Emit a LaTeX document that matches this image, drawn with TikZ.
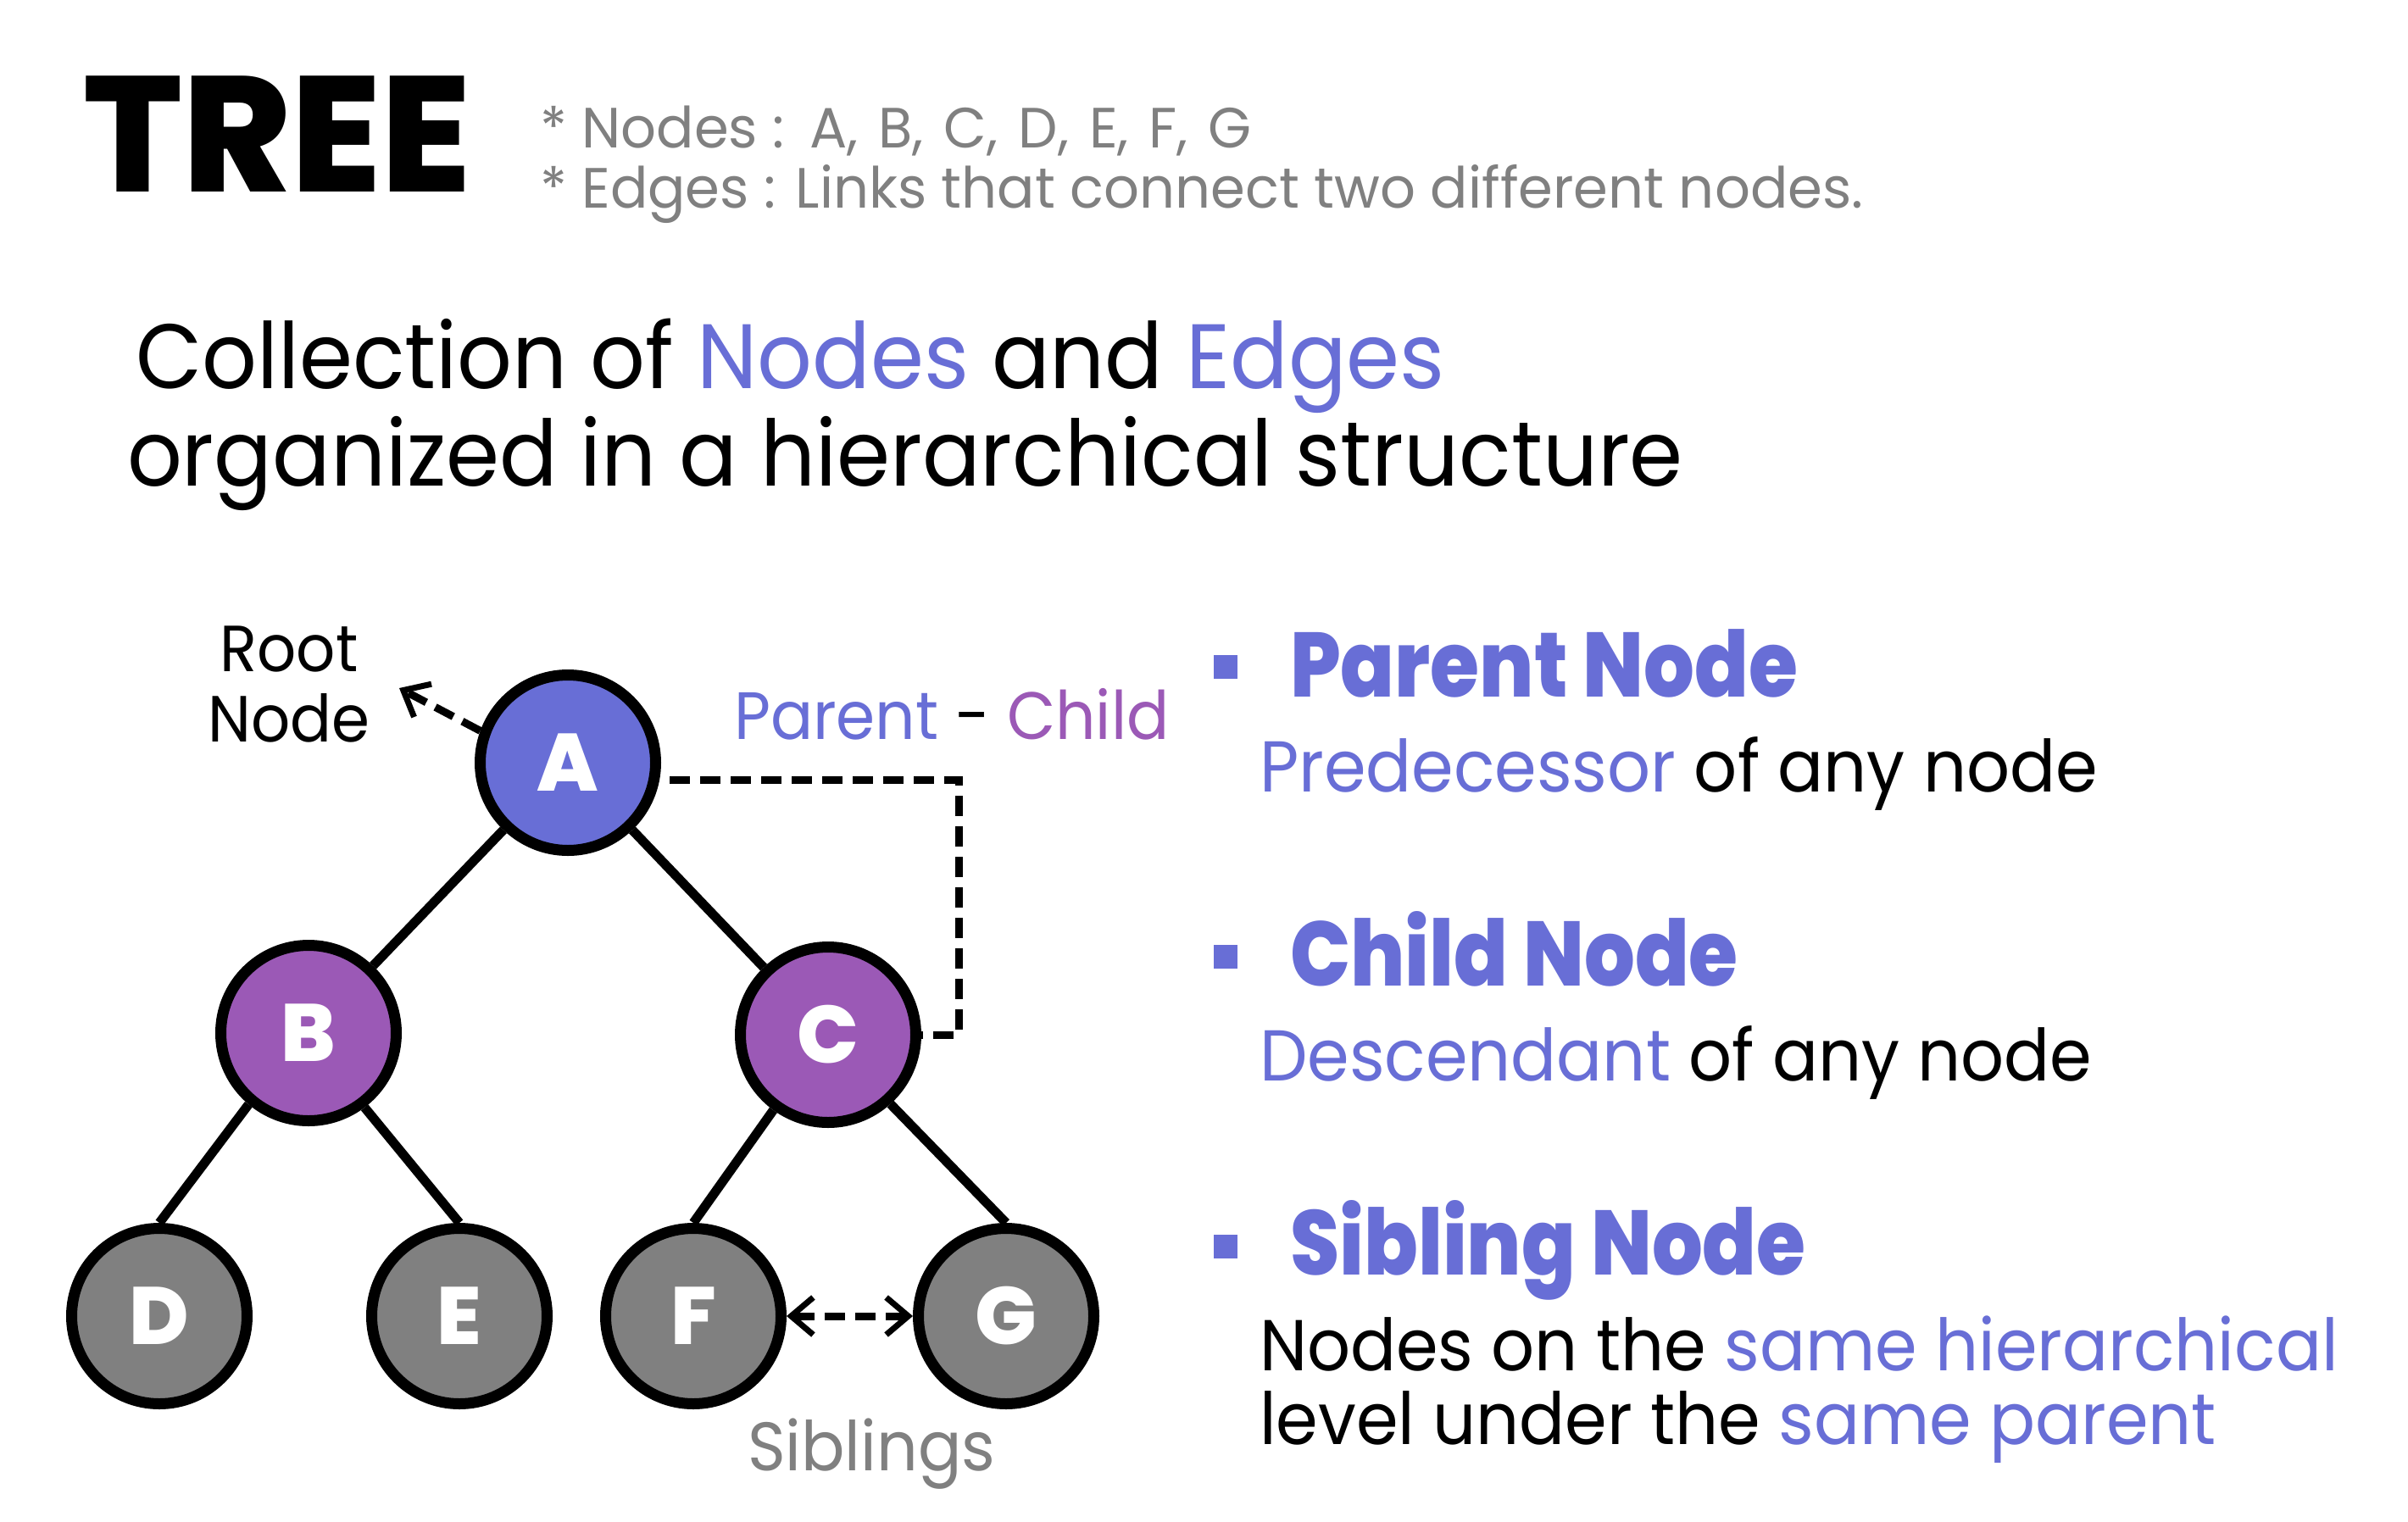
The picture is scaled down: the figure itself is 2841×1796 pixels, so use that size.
\documentclass[tikz,border=0pt]{standalone}
\usepackage{fontspec}
\setmainfont[FakeStretch=0.94]{Poppins}
\newfontfamily\hdrfont[FakeStretch=0.98]{Poppins}
\newfontfamily\heavyfont{Poppins ExtraBold}
\newfontfamily\headfont[FakeStretch=0.87]{Poppins ExtraBold}
\usetikzlibrary{arrows.meta}
\definecolor{tblue}{RGB}{104,110,214}
\definecolor{tpurple}{RGB}{155,89,182}
\definecolor{tgray}{RGB}{128,128,128}
\newcommand{\hgap}{\hspace{24pt}}
\begin{document}
\begin{tikzpicture}[x=1pt,y=-1pt,
  treenode/.style={circle, draw=black, line width=13pt, minimum size=207pt, inner sep=0pt,
    text=white, font=\heavyfont\fontsize{96}{96}\selectfont},
  edgeline/.style={line width=11pt},
  dashconn/.style={line width=9pt, dash pattern=on 24pt off 12pt},
  barbtip/.style={-{Straight Barb[length=26pt,width=44pt,line width=7pt]}},
  txt/.style={anchor=base west, inner sep=0pt, outer sep=0pt},
  bodyfont/.style={font=\fontsize{85}{85}\selectfont},
  headstyle/.style={txt, text=tblue, font=\headfont\fontsize{108}{108}\selectfont}
]
\useasboundingbox (0,0) rectangle (2841,1796);
\fill[white] (0,0) rectangle (2841,1796);

% title and header
\node[txt, font=\heavyfont\fontsize{194}{194}\selectfont] (title) at (98,226) {TREE};
\node[txt, text=tgray, font=\hdrfont\fontsize{67}{67}\selectfont] (hdr1) at (637,174) {* Nodes :\hspace{30pt}A,\hgap B,\hgap C,\hgap D,\hgap E,\hgap F,\hgap G};
\node[txt, text=tgray, font=\hdrfont\fontsize{67}{67}\selectfont] (hdr2) at (637,245) {* Edges : Links that connect two different nodes.};

% main statement
\node[txt, font=\fontsize{108}{108}\selectfont] (main1) at (160,458) {Collection of {\color{tblue}Nodes} and {\color{tblue}Edges}};
\node[txt, font=\fontsize{108}{108}\selectfont] (main2) at (150,573) {organized in a hierarchical structure};

% tree nodes
\node[treenode, fill=tblue] (A) at (670,900) {A};
\node[treenode, fill=tpurple] (B) at (364,1219) {B};
\node[treenode, fill=tpurple] (C) at (977,1221) {C};
\node[treenode, fill=tgray] (D) at (188,1553) {D};
\node[treenode, fill=tgray] (E) at (542,1553) {E};
\node[treenode, fill=tgray] (F) at (818,1553) {F};
\node[treenode, fill=tgray] (G) at (1187,1553) {G};

\draw[edgeline] (A) -- (B);
\draw[edgeline] (A) -- (C);
\draw[edgeline] (B.-130) -- (D.north);
\draw[edgeline] (B.-53) -- (E.north);
\draw[edgeline] (C.-126) -- (F.north);
\draw[edgeline] (C.-48) -- (G.north);

% parent-child connector
\coordinate (pc1) at (1131,920);
\coordinate (pc2) at (1131,1221);
\draw[dashconn] ([yshift=-20pt,xshift=10pt]A.east) -- (pc1) -- (pc2) -- (C.east);
\node[txt, font=\fontsize{79}{79}\selectfont] (pclabel) at (866,872) {{\color{tblue}Parent} - {\color{tpurple}Child}};

% root label
\coordinate (roottip) at (471,812);
\draw[dashconn, barbtip] (A.160) -- (roottip);
\node[anchor=base, inner sep=0pt, font=\fontsize{77}{77}\selectfont] (root1) at (341,792) {Root};
\node[anchor=base, inner sep=0pt, font=\fontsize{77}{77}\selectfont] (root2) at (341,875) {Node};

% siblings
\draw[dashconn, {Straight Barb[length=26pt,width=44pt,line width=7pt]}-{Straight Barb[length=26pt,width=44pt,line width=7pt]}] (F.east) -- (G.west);
\node[txt, text=tgray, font=\fontsize{81}{81}\selectfont] (sib) at (882,1735) {Siblings};

% right column
\fill[tblue] (1432,773) rectangle (1460,801);
\fill[tblue] (1432,1115) rectangle (1460,1143);
\fill[tblue] (1432,1457) rectangle (1460,1485);
\node[headstyle] (h1) at (1522,822) {Parent Node};
\node[txt, bodyfont] (t1) at (1486,934) {{\color{tblue}Predecessor} of any node};
\node[headstyle] (h2) at (1522,1163) {Child Node};
\node[txt, bodyfont] (t2) at (1486,1275) {{\color{tblue}Descendant} of any node};
\node[headstyle] (h3) at (1522,1504) {Sibling Node};
\node[txt, bodyfont] (t3) at (1486,1617) {Nodes on the {\color{tblue}same hierarchical}};
\node[txt, bodyfont] (t4) at (1486,1704) {level under the {\color{tblue}same parent}};
\end{tikzpicture}
\end{document}
